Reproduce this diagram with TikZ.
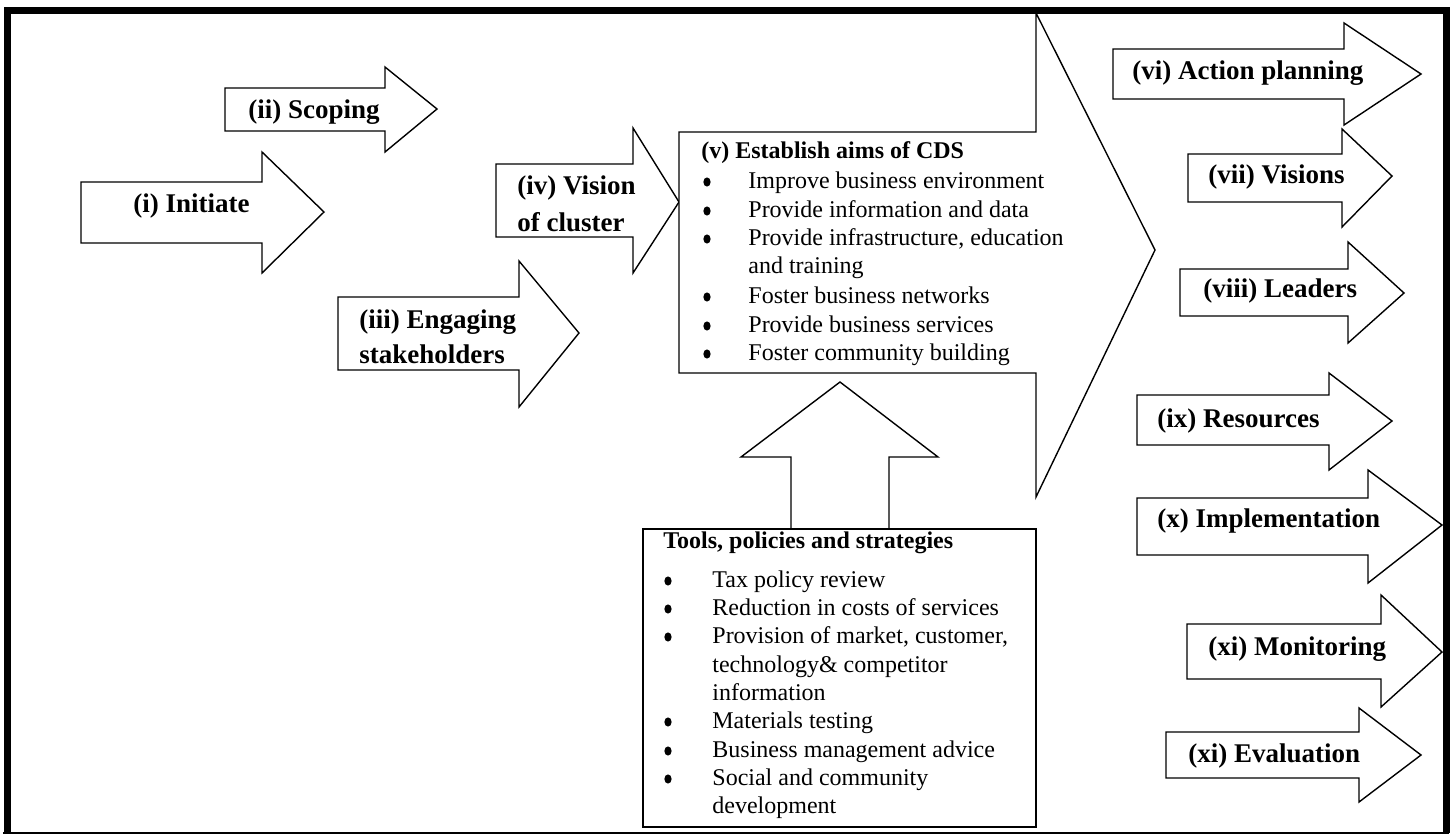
\documentclass[tikz,border=0pt]{standalone}
\usepackage{fontspec}
\setmainfont{Liberation Serif}
% block arrow: body left x, body top, body bottom, head base x, head top, head bottom, tip x, tip y
\newcommand{\blockarr}[8]{%
  \draw[shapeline] (#1,#2) -- (#4,#2) -- (#4,#5) -- (#7,#8) -- (#4,#6) -- (#4,#3) -- (#1,#3) -- cycle;}
% list bullet centred above a text baseline
\newcommand{\listdot}[2]{\fill (#1,#2-6) ellipse [x radius=3.6, y radius=4.6];}
\begin{document}
\begin{tikzpicture}[x=0.5pt,y=-0.5pt,
  shapeline/.style={draw=black,line width=0.7pt,fill=white,line join=miter},
  lbl/.style={font=\fontsize{13.5}{16}\selectfont\bfseries,anchor=base west,inner sep=0pt},
  ttl/.style={font=\fontsize{12}{14}\selectfont\bfseries,anchor=base west,inner sep=0pt},
  itm/.style={font=\fontsize{12}{14}\selectfont,anchor=base west,inner sep=0pt}]
\useasboundingbox (0,0) rectangle (1455,836);
\fill[white] (0,0) rectangle (1455,836);

% stage arrows on the left
\blockarr{225}{88}{131}{385}{67}{152}{437}{109}
\blockarr{81}{182}{243}{262}{152}{273}{324}{212}
\blockarr{496}{164}{237}{633}{128}{273}{679}{202}
\blockarr{338}{297}{370}{519}{261}{407}{579}{333}

% the large arrow holding the aims of the CDS
\draw[shapeline] (679,132) -- (1036,132) -- (1036,13) -- (1155,250) -- (1036,497)
  -- (1036,373) -- (679,373) -- cycle;

% up arrow and the tools box below it
\draw[shapeline] (791,529) -- (791,457) -- (741,457) -- (840,382) -- (938,457)
  -- (889,457) -- (889,529) -- cycle;
\draw[shapeline] (643,529) rectangle (1036,827);

% stage arrows on the right
\blockarr{1113}{49}{99}{1344}{23}{125}{1421}{74}
\blockarr{1188}{154}{202}{1342}{129}{227}{1392}{176}
\blockarr{1180}{269}{316}{1348}{242}{343}{1404}{293}
\blockarr{1137}{395}{445}{1329}{373}{470}{1392}{421}
\blockarr{1137}{498}{555}{1368}{470}{583}{1442}{525}
\blockarr{1187}{624}{679}{1381}{595}{707}{1442}{652}
\blockarr{1166}{732}{778}{1359}{708}{802}{1421}{755}

% arrow labels
\node[lbl] (t2) at (248,118) {(ii) Scoping};
\node[lbl] (t1) at (133,212) {(i) Initiate};
\node[lbl] (t4a) at (517,194) {(iv) Vision};
\node[lbl] (t4b) at (517,231) {of cluster};
\node[lbl] (t3a) at (359,328) {(iii) Engaging};
\node[lbl] (t3b) at (359,363) {stakeholders};
\node[lbl] (t6) at (1132,79) {(vi) Action planning};
\node[lbl] (t7) at (1208,183) {(vii) Visions};
\node[lbl] (t8) at (1203,297) {(viii) Leaders};
\node[lbl] (t9) at (1157,427) {(ix) Resources};
\node[lbl] (t10) at (1157,527) {(x) Implementation};
\node[lbl] (t11) at (1208,655) {(xi) Monitoring};
\node[lbl] (t12) at (1188,762) {(xi) Evaluation};

% aims of the CDS
\node[ttl] (vt) at (701,158) {(v) Establish aims of CDS};
\foreach \yb in {188,217,245,303,332,360} {\listdot{707}{\yb}}
\node[itm] (vi1) at (748,188) {Improve business environment};
\node[itm] (vi2) at (748,217) {Provide information and data};
\node[itm] (vi3) at (748,245) {Provide infrastructure, education};
\node[itm] (vi3b) at (748,273) {and training};
\node[itm] (vi4) at (748,303) {Foster business networks};
\node[itm] (vi5) at (748,332) {Provide business services};
\node[itm] (vi6) at (748,360) {Foster community building};

% tools, policies and strategies
\node[ttl] (tt) at (663,548) {Tools, policies and strategies};
\foreach \yb in {587,615,643,728,757,785} {\listdot{668}{\yb}}
\node[itm] (ti1) at (712,587) {Tax policy review};
\node[itm] (ti2) at (712,615) {Reduction in costs of services};
\node[itm] (ti3) at (712,643) {Provision of market, customer,};
\node[itm] (ti3b) at (712,672) {technology\& competitor};
\node[itm] (ti3c) at (712,700) {information};
\node[itm] (ti4) at (712,728) {Materials testing};
\node[itm] (ti5) at (712,757) {Business management advice};
\node[itm] (ti6) at (712,785) {Social and community};
\node[itm] (ti6b) at (712,813) {development};

% outer frame
\draw[line width=3.5pt,line join=miter] (7,833) -- (7,10.5) -- (1446,10.5) -- (1446,833);
\draw[line width=1pt] (3,833) -- (1449,833);
\end{tikzpicture}
\end{document}
